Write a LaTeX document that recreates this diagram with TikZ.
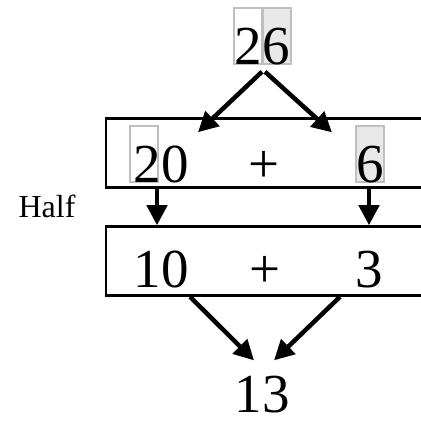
\documentclass[tikz,border=0pt]{standalone}
\usepackage{fontspec}
\setmainfont{Liberation Serif}
\usetikzlibrary{arrows.meta}

\begin{document}
\begin{tikzpicture}[x=1pt,y=1pt,
	big/.style={font=\fontsize{55}{60}\selectfont,inner sep=0pt,anchor=base},
	row/.style={draw,line width=2.5pt,minimum width=334pt,minimum height=69pt,inner sep=0pt},
	digit/.style={draw=black!25,line width=2pt,minimum width=28pt,minimum height=56pt,inner sep=0pt},
	shade/.style={digit,fill=black!9},
	fat/.style={line width=4.5pt,-{Triangle[length=20pt,width=20pt]}}]
	\useasboundingbox (0,0) rectangle (421,421);
	\node[row] at (273,268) (r1) {};
	\node[row] at (273,160) (r2) {};
	\node[digit] at (248,385) (b2) {};
	\node[shade] at (277,385) (b6) {};
	\node[digit] at (144,267) (c2) {};
	\node[shade] at (370,267) (c6) {};
	\node[big] at (262,356) (26) {26};
	\node[big] at (161,238) (20) {20};
	\node[big] at (264,238) (p1) {+};
	\node[big] at (370,238) (6) {6};
	\node[big] at (161,133) (10) {10};
	\node[big] at (265,133) (p2) {+};
	\node[big] at (369,133) (3) {3};
	\node[big] at (262,9) (13) {13};
	\node[font=\fontsize{32}{36}\selectfont,inner sep=0pt,anchor=base] at (47,203) (half) {Half};
	\draw [fat] ([yshift=-6pt]26.south) -- ([xshift=37pt,yshift=14pt]20.north);
	\draw [fat] ([xshift=3pt,yshift=-6pt]26.south) -- ([xshift=-38pt,yshift=14pt]6.north);
	\draw [fat] ([xshift=-116pt]r1.south) -- ([xshift=-116pt]r2.north);
	\draw [fat] ([xshift=96pt]r1.south) -- ([xshift=96pt]r2.north);
	\draw [fat] ([xshift=-83pt]r2.south) -- ([xshift=-8pt,yshift=15pt]13.north);
	\draw [fat] ([xshift=67pt]r2.south) -- ([xshift=12pt,yshift=15pt]13.north);
\end{tikzpicture}
\end{document}
